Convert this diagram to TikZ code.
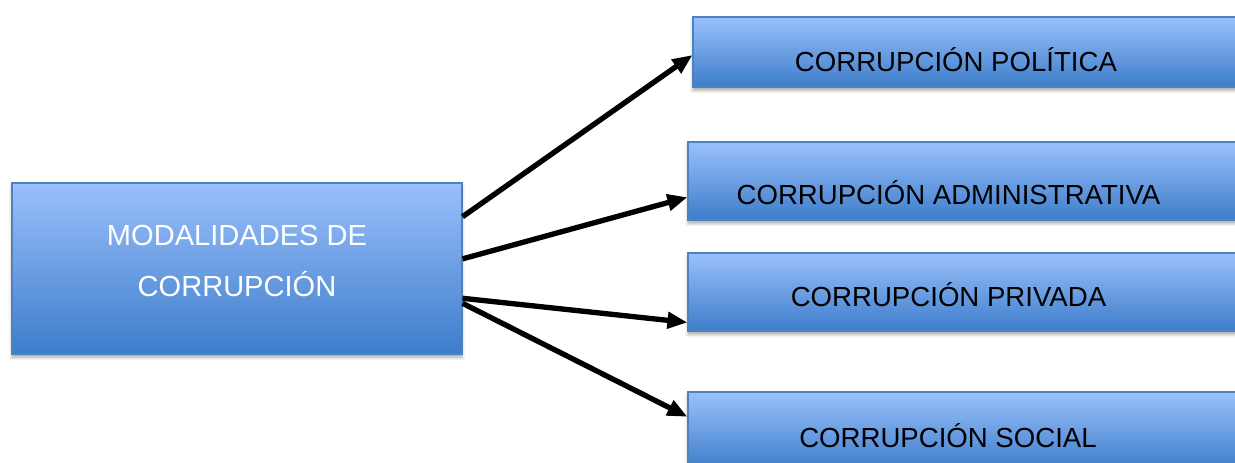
\documentclass[tikz,border=0pt]{standalone}
\usepackage{fontspec}
\setmainfont{Liberation Sans}
\usetikzlibrary{arrows.meta,calc,shadows.blur}

\definecolor{cajaarriba}{RGB}{154,192,252}
\definecolor{cajamedio}{RGB}{124,168,236}
\definecolor{cajaabajo}{RGB}{61,125,202}
\definecolor{cajaborde}{RGB}{79,129,189}

\begin{document}
\begin{tikzpicture}[x=0.75pt,y=-0.75pt]
  \tikzset{caja/.style = {
      shape = rectangle,
      top color = cajaarriba,
      middle color = cajamedio,
      bottom color = cajaabajo,
      draw = cajaborde,
      line width = 0.8pt,
      inner sep = 0pt,
      blur shadow = {shadow xshift=0pt, shadow yshift=-2.5pt,
        shadow blur radius=2.5pt, shadow opacity=35}},
    rotulo/.style = {
      anchor = base,
      inner sep = 0pt,
      font = \fontsize{20.7}{24}\selectfont},
    flecha/.style = {
      line width = 4pt,
      -{Triangle[length=15pt,width=12pt]}}}
  \useasboundingbox (0,0) rectangle (1235,462);
  \clip (0,0) rectangle (1235,462);
  % cajas
  \node[caja, minimum width=337.5pt, minimum height=128.25pt] (modal) at (237,268.5) {};
  \node[caja, minimum width=417.75pt, minimum height=52.5pt] (pol) at (971.5,52) {};
  \node[caja, minimum width=421.5pt, minimum height=58.5pt] (adm) at (969,181) {};
  \node[caja, minimum width=421.5pt, minimum height=58.5pt] (priv) at (969,292) {};
  \node[caja, minimum width=421.5pt, minimum height=58.5pt] (soc) at (969,431) {};
  % textos
  \node[rotulo, text=white, font=\fontsize{21.8}{26}\selectfont] (modal-a) at (237,245) {MODALIDADES DE};
  \node[rotulo, text=white, font=\fontsize{21.8}{26}\selectfont] (modal-b) at (237,296) {CORRUPCIÓN};
  \node[rotulo] (pol-t) at (956,71) {CORRUPCIÓN POLÍTICA};
  \node[rotulo] (adm-t) at (948.5,204) {CORRUPCIÓN ADMINISTRATIVA};
  \node[rotulo] (priv-t) at (948.5,306) {CORRUPCIÓN PRIVADA};
  \node[rotulo] (soc-t) at (948,447) {CORRUPCIÓN SOCIAL};
  % flechas
  \foreach \a/\b/\n in {.199/.543/pol, .444/.705/adm, .673/.885/priv, .702/.32/soc}
    \draw[flecha] ($(modal.north east)!\a!(modal.south east)$)
      -- ($(\n.north west)!\b!(\n.south west)$);
\end{tikzpicture}
\end{document}
